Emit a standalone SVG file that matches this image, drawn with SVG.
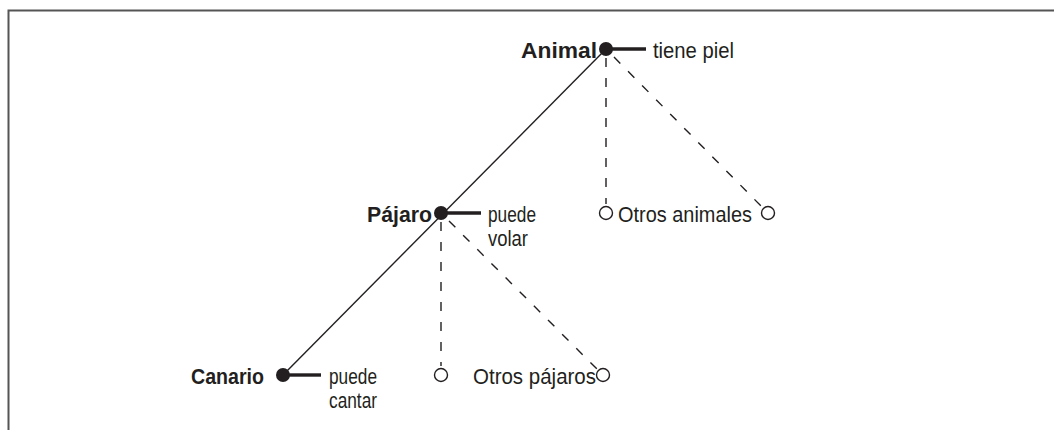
<svg xmlns="http://www.w3.org/2000/svg" width="1054" height="430" viewBox="0 0 1054 430">
<style>
text{font-family:"Liberation Sans",Arial,sans-serif;font-size:22px;fill:#231f20}
.b{font-weight:bold}
.solid{stroke:#231f20;stroke-width:1.4;fill:none}
.dash{stroke:#231f20;stroke-width:1.4;fill:none;stroke-dasharray:9,11}
.bar{stroke:#231f20;stroke-width:3.4}
.dot{fill:#231f20}
.open{fill:#fff;stroke:#231f20;stroke-width:1.4}
</style>
<rect width="1054" height="430" fill="#fff"/>
<path d="M8.5 430 V10.5 H1054" fill="none" stroke="#555" stroke-width="2"/>
<g id="connectors">
<line class="solid" x1="606" y1="49" x2="283" y2="375"/>
<line class="dash" x1="606" y1="58" x2="606" y2="204"/>
<line class="dash" x1="614" y1="57" x2="762" y2="207"/>
<line class="dash" x1="441" y1="222" x2="441" y2="366"/>
<line class="dash" x1="449" y1="221" x2="597" y2="369"/>
</g>
<g id="animal">
<circle class="dot" cx="606" cy="49" r="7"/>
<line class="bar" x1="612" y1="49" x2="646" y2="49"/>
<text class="b" x="597" y="58" text-anchor="end" textLength="76" lengthAdjust="spacingAndGlyphs">Animal</text>
<text x="653" y="58" textLength="81" lengthAdjust="spacingAndGlyphs">tiene piel</text>
</g>
<g id="pajaro">
<circle class="dot" cx="441" cy="213" r="7"/>
<line class="bar" x1="447" y1="213" x2="481" y2="213"/>
<text class="b" x="432" y="222" text-anchor="end" textLength="65" lengthAdjust="spacingAndGlyphs">Pájaro</text>
<text x="488" y="222" textLength="48" lengthAdjust="spacingAndGlyphs">puede</text>
<text x="488" y="246" textLength="40" lengthAdjust="spacingAndGlyphs">volar</text>
</g>
<g id="canario">
<circle class="dot" cx="283" cy="375" r="7"/>
<line class="bar" x1="289" y1="375" x2="321" y2="375"/>
<text class="b" x="264" y="384" text-anchor="end" textLength="73" lengthAdjust="spacingAndGlyphs">Canario</text>
<text x="329" y="384" textLength="48" lengthAdjust="spacingAndGlyphs">puede</text>
<text x="329" y="408" textLength="48" lengthAdjust="spacingAndGlyphs">cantar</text>
</g>
<g id="otros-animales">
<circle class="open" cx="606" cy="213" r="6.5"/>
<circle class="open" cx="768" cy="213" r="6.5"/>
<text x="618" y="222" textLength="134" lengthAdjust="spacingAndGlyphs">Otros animales</text>
</g>
<g id="otros-pajaros">
<circle class="open" cx="441" cy="375" r="6.5"/>
<circle class="open" cx="603" cy="375" r="6.5"/>
<text x="473" y="384" textLength="123" lengthAdjust="spacingAndGlyphs">Otros pájaros</text>
</g>
</svg>
